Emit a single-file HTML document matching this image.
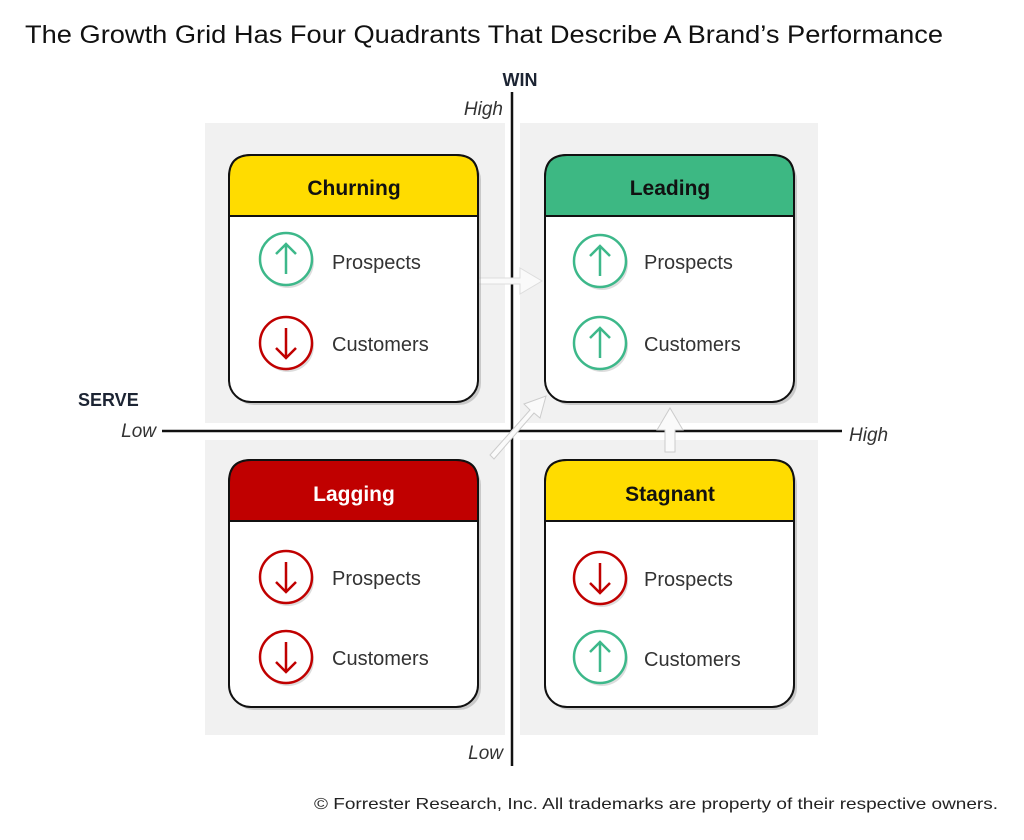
<!DOCTYPE html>
<html><head><meta charset="utf-8"><style>
html,body{margin:0;padding:0;background:#fff;}
svg{display:block;font-family:"Liberation Sans",sans-serif;}
</style></head><body>
<svg width="1024" height="840" viewBox="0 0 1024 840" xmlns="http://www.w3.org/2000/svg">
<defs>
<g id="up"><circle cx="2" cy="3" r="26" fill="#bbb" opacity="0.5"/><circle r="26" fill="#fff" stroke="#3DB88A" stroke-width="2.5"/><path d="M0,15 V-15 M-10,-5 L0,-15 L10,-5" fill="none" stroke="#3DB88A" stroke-width="2.5"/></g>
<g id="dn"><circle cx="2" cy="3" r="26" fill="#bbb" opacity="0.5"/><circle r="26" fill="#fff" stroke="#C00000" stroke-width="2.5"/><path d="M0,-15 V15 M-10,5 L0,15 L10,5" fill="none" stroke="#C00000" stroke-width="2.5"/></g>
</defs>
<text x="25" y="43" font-size="25" textLength="918" lengthAdjust="spacingAndGlyphs" fill="#111">The Growth Grid Has Four Quadrants That Describe A Brand’s Performance</text>
<rect x="205" y="123" width="300" height="300" fill="#f1f1f1"/>
<rect x="520" y="123" width="298" height="300" fill="#f1f1f1"/>
<rect x="205" y="440" width="300" height="295" fill="#f1f1f1"/>
<rect x="520" y="440" width="298" height="295" fill="#f1f1f1"/>
<line x1="512" y1="92" x2="512" y2="766" stroke="#111" stroke-width="2.5"/>
<line x1="162" y1="431" x2="842" y2="431" stroke="#111" stroke-width="2.5"/>
<text x="520" y="86" font-size="18" font-weight="bold" fill="#1c2433" text-anchor="middle">WIN</text>
<text x="503" y="115" font-size="19" font-style="italic" fill="#333" text-anchor="end">High</text>
<text x="503" y="759" font-size="19" font-style="italic" fill="#333" text-anchor="end">Low</text>
<text x="78" y="406" font-size="18" font-weight="bold" fill="#1c2433">SERVE</text>
<text x="156" y="437" font-size="19" font-style="italic" fill="#333" text-anchor="end">Low</text>
<text x="849" y="441" font-size="19" font-style="italic" fill="#333">High</text>
<path d="M478,278 H520 V268 L542,281 L520,294 V284 H478 Z" fill="#fafafa" stroke="#ddd" stroke-width="1"/>
<path d="M490,455 L530,410 L524,404 L546,396 L540,418 L534,413 L494,459 Z" fill="#fafafa" stroke="#ccc" stroke-width="1"/>
<path d="M665,452 V430 H657 L670,408 L683,430 H675 V452 Z" fill="#fafafa" stroke="#ccc" stroke-width="1"/>
<g>
<rect x="232" y="158" width="249" height="247" rx="22" fill="#999" opacity="0.45"/>
<rect x="229" y="155" width="249" height="247" rx="22" fill="#fff" stroke="#111" stroke-width="2"/>
<path d="M229,216 V177 Q229,155 251,155 H456 Q478,155 478,177 V216 Z" fill="#FFDC00" stroke="#111" stroke-width="2"/>
<text x="354" y="195" font-size="21" font-weight="bold" text-anchor="middle" fill="#111">Churning</text>
<use href="#up" x="286" y="259"/><text x="332" y="269" font-size="20" fill="#333">Prospects</text>
<use href="#dn" x="286" y="343"/><text x="332" y="351" font-size="20" fill="#333">Customers</text>
</g>
<g>
<rect x="548" y="158" width="249" height="247" rx="22" fill="#999" opacity="0.45"/>
<rect x="545" y="155" width="249" height="247" rx="22" fill="#fff" stroke="#111" stroke-width="2"/>
<path d="M545,216 V177 Q545,155 567,155 H772 Q794,155 794,177 V216 Z" fill="#3DB883" stroke="#111" stroke-width="2"/>
<text x="670" y="195" font-size="21" font-weight="bold" text-anchor="middle" fill="#111">Leading</text>
<use href="#up" x="600" y="261"/><text x="644" y="269" font-size="20" fill="#333">Prospects</text>
<use href="#up" x="600" y="343"/><text x="644" y="351" font-size="20" fill="#333">Customers</text>
</g>
<g>
<rect x="232" y="463" width="249" height="247" rx="22" fill="#999" opacity="0.45"/>
<rect x="229" y="460" width="249" height="247" rx="22" fill="#fff" stroke="#111" stroke-width="2"/>
<path d="M229,521 V482 Q229,460 251,460 H456 Q478,460 478,482 V521 Z" fill="#C00000" stroke="#111" stroke-width="2"/>
<text x="354" y="501" font-size="21" font-weight="bold" text-anchor="middle" fill="#fff">Lagging</text>
<use href="#dn" x="286" y="577"/><text x="332" y="585" font-size="20" fill="#333">Prospects</text>
<use href="#dn" x="286" y="657"/><text x="332" y="665" font-size="20" fill="#333">Customers</text>
</g>
<g>
<rect x="548" y="463" width="249" height="247" rx="22" fill="#999" opacity="0.45"/>
<rect x="545" y="460" width="249" height="247" rx="22" fill="#fff" stroke="#111" stroke-width="2"/>
<path d="M545,521 V482 Q545,460 567,460 H772 Q794,460 794,482 V521 Z" fill="#FFDC00" stroke="#111" stroke-width="2"/>
<text x="670" y="501" font-size="21" font-weight="bold" text-anchor="middle" fill="#111">Stagnant</text>
<use href="#dn" x="600" y="578"/><text x="644" y="586" font-size="20" fill="#333">Prospects</text>
<use href="#up" x="600" y="657"/><text x="644" y="666" font-size="20" fill="#333">Customers</text>
</g>
<text x="998" y="809" font-size="16" text-anchor="end" fill="#222" textLength="684" lengthAdjust="spacingAndGlyphs">© Forrester Research, Inc. All trademarks are property of their respective owners.</text>
</svg>
</body></html>
